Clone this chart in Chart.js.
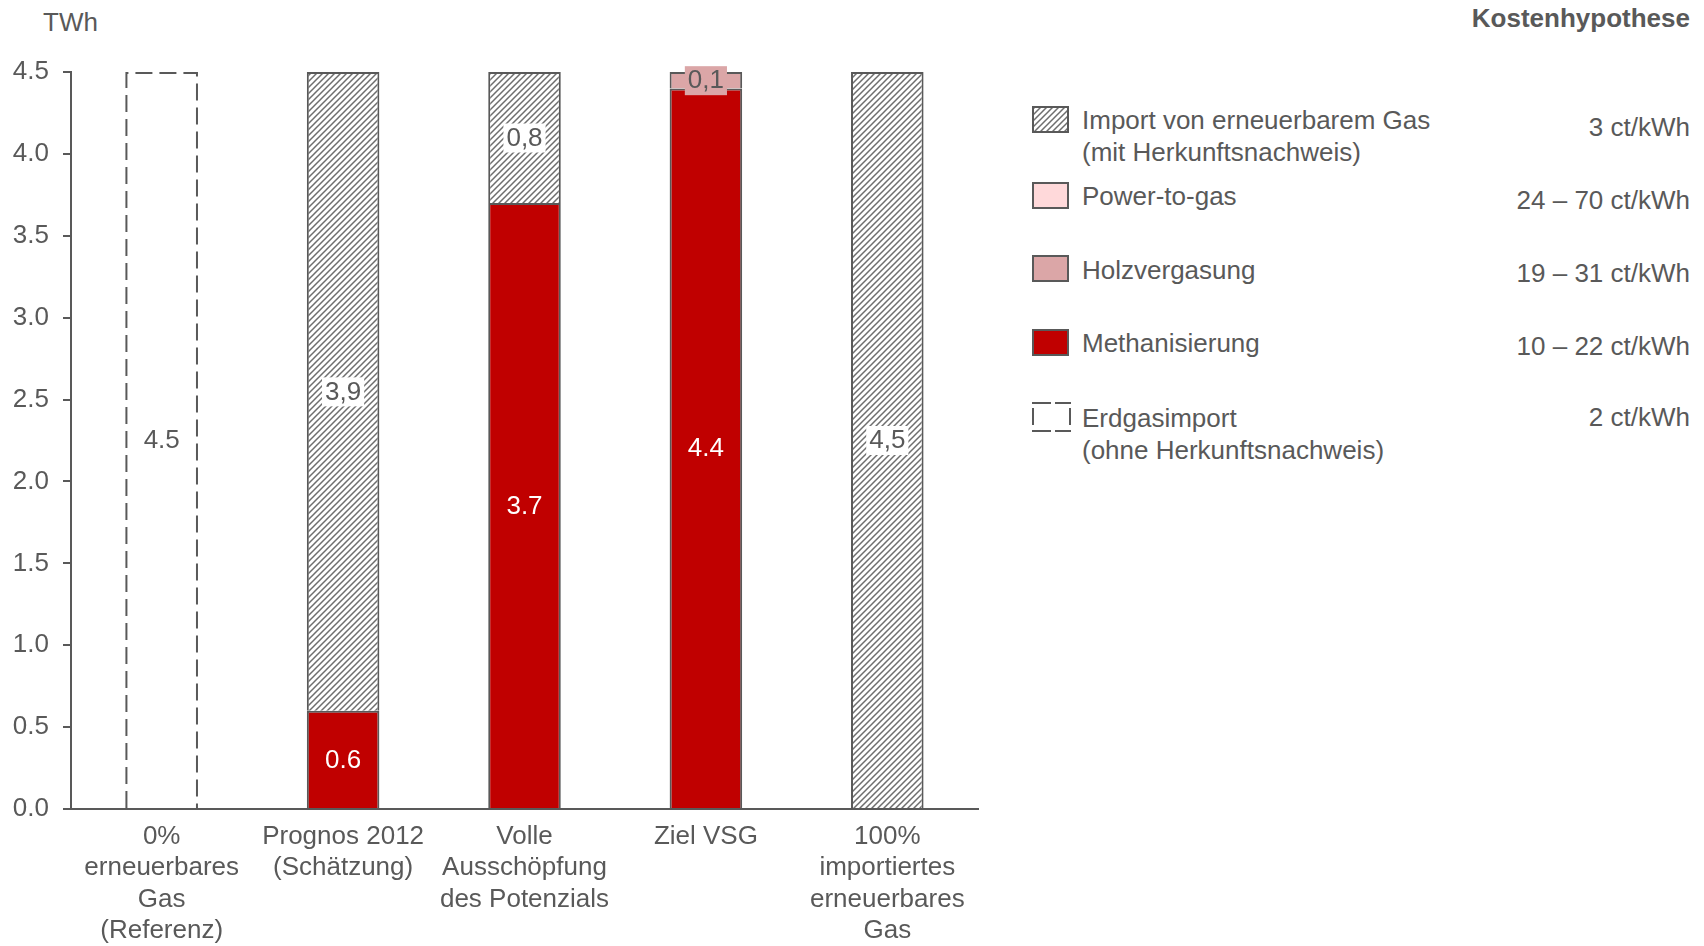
<!DOCTYPE html>
<html lang="de">
<head>
<meta charset="utf-8">
<script src="https://cdn.jsdelivr.net/npm/chart.js@4.4.1/dist/chart.umd.min.js"></script>
<style>
  body { margin: 0; width: 1704px; height: 946px; background: #fff; position: relative; overflow: hidden;
         font-family: "Liberation Sans", Arial, sans-serif; color: #595959; }
  #grafico-box { position: absolute; left: 0; top: 0; width: 1000px; height: 946px; }
  .einheit { position: absolute; left: 43px; top: 7px; font-size: 26px; }
  .kopf { position: absolute; right: 14px; top: 3px; font-size: 26px; font-weight: bold; }
  .farbe { position: absolute; left: 1032px; width: 37px; height: 27px; box-sizing: border-box; border: 2px solid #595959; }
  .name { position: absolute; left: 1082px; font-size: 26px; line-height: 31.5px; white-space: nowrap; }
  .kosten { position: absolute; right: 14px; font-size: 26px; line-height: 31.5px; white-space: nowrap; }
</style>
</head>
<body>
<div class="einheit">TWh</div>
<div class="kopf">Kostenhypothese</div>
<div id="legende"></div>
<div id="grafico-box"><canvas id="grafico"></canvas></div>

<script>
// Szenarien (x-Achse)
const szenarien = [
  ["0%", "erneuerbares", "Gas", "(Referenz)"],
  ["Prognos 2012", "(Schätzung)"],
  ["Volle", "Ausschöpfung", "des Potenzials"],
  ["Ziel VSG"],
  ["100%", "importiertes", "erneuerbares", "Gas"]
];

// Werte in TWh je Technologie
const methanisierung = [null, 0.6, 3.7, 4.4, null];
const holzvergasung  = [null, null, null, 0.1, null];
const powerToGas     = [null, null, null, null, null];
const importErneuerb = [null, 3.9, 0.8, null, 4.5];
const erdgasimport   = [4.5, null, null, null, null];

const yTicks = [0, 0.5, 1, 1.5, 2, 2.5, 3, 3.5, 4, 4.5];

// Legende mit Kostenhypothese
const legendeNamen = [
  ["Import von erneuerbarem Gas", "(mit Herkunftsnachweis)"],
  ["Power-to-gas"],
  ["Holzvergasung"],
  ["Methanisierung"],
  ["Erdgasimport", "(ohne Herkunftsnachweis)"]
];
const legendeKosten = ["3 ct/kWh", "24 – 70 ct/kWh", "19 – 31 ct/kWh", "10 – 22 ct/kWh", "2 ct/kWh"];

const GRAU = "#595959";
const ROT = "#C00000";
const HOLZ = "#DBA6A7";
const PTG = "#FFD9DA";
const SCHRIFT = '"Liberation Sans", Arial, sans-serif';

// Schraffur für importiertes Gas
const kachel = document.createElement("canvas");
kachel.width = kachel.height = 6;
const k = kachel.getContext("2d");
k.fillStyle = "#fff";
k.fillRect(0, 0, 6, 6);
k.strokeStyle = "#6e6e6e";
k.lineWidth = 1.5;
k.beginPath();
k.moveTo(0, 6); k.lineTo(6, 0);
k.moveTo(-1, 1); k.lineTo(1, -1);
k.moveTo(5, 7); k.lineTo(7, 5);
k.stroke();
const schraffur = k.createPattern(kachel, "repeat");

// gestricheltes Kästchen für die Legende
function gestricheltesKaestchen() {
  const c = document.createElement("canvas");
  c.width = 39; c.height = 30;
  const g = c.getContext("2d");
  g.strokeStyle = GRAU;
  g.lineWidth = 2;
  g.beginPath();
  g.moveTo(0, 1); g.lineTo(19, 1);
  g.moveTo(23, 1); g.lineTo(39, 1);
  g.moveTo(0, 29); g.lineTo(19, 29);
  g.moveTo(23, 29); g.lineTo(39, 29);
  g.moveTo(1, 6); g.lineTo(1, 23);
  g.moveTo(38, 6); g.lineTo(38, 23);
  g.stroke();
  return c.toDataURL();
}

// Legende aufbauen
function baueLegende() {
  const box = document.getElementById("legende");
  const zeilen = [
    { farbe: 106, name: 105, kosten: 112 },
    { farbe: 182, name: 181, kosten: 185 },
    { farbe: 255, name: 255, kosten: 258 },
    { farbe: 329, name: 328, kosten: 331 },
    { farbe: 402, name: 403, kosten: 402 }
  ];
  const stile = [
    f => { f.style.backgroundImage = `url(${kachel.toDataURL()})`; },
    f => { f.style.background = PTG; },
    f => { f.style.background = HOLZ; },
    f => { f.style.background = ROT; },
    f => {
      f.style.border = "none";
      f.style.width = "39px";
      f.style.height = "30px";
      f.style.backgroundImage = `url(${gestricheltesKaestchen()})`;
    }
  ];
  legendeNamen.forEach((name, i) => {
    const f = document.createElement("div");
    f.className = "farbe";
    f.style.top = zeilen[i].farbe + "px";
    stile[i](f);
    box.appendChild(f);

    const n = document.createElement("div");
    n.className = "name";
    n.style.top = zeilen[i].name + "px";
    n.innerHTML = name.join("<br>");
    box.appendChild(n);

    const c = document.createElement("div");
    c.className = "kosten";
    c.style.top = zeilen[i].kosten + "px";
    c.textContent = legendeKosten[i];
    box.appendChild(c);
  });
}

// Gestrichelter Rahmen und Wertbeschriftungen
const beschriftung = {
  id: "beschriftung",
  afterDatasetsDraw(chart) {
    const ctx = chart.ctx;
    ctx.save();
    chart.data.datasets.forEach((ds, i) => {
      const meta = chart.getDatasetMeta(i);
      meta.data.forEach((bar, j) => {
        const v = ds.data[j];
        if (v == null) return;
        const { x, y, base, width } = bar.getProps(["x", "y", "base", "width"], true);

        if (ds.gestrichelt) {
          ctx.setLineDash([17, 7]);
          ctx.strokeStyle = GRAU;
          ctx.lineWidth = 2;
          ctx.beginPath();
          ctx.moveTo(x - width / 2 + 1, base);
          ctx.lineTo(x - width / 2 + 1, y + 1);
          ctx.lineTo(x + width / 2 - 1, y + 1);
          ctx.lineTo(x + width / 2 - 1, base);
          ctx.stroke();
          ctx.setLineDash([]);
        }

        const text = v.toFixed(1).replace(".", ds.trenner);
        const cy = (y + base) / 2;
        ctx.font = `26px ${SCHRIFT}`;
        ctx.textAlign = "center";
        ctx.textBaseline = "middle";
        if (ds.labelHintergrund) {
          const w = ctx.measureText(text).width + 6;
          ctx.fillStyle = ds.labelHintergrund;
          ctx.fillRect(x - w / 2, cy - 14, w, 29);
        }
        ctx.fillStyle = ds.labelFarbe;
        ctx.fillText(text, x, cy + 1);
      });
    });
    ctx.restore();
  }
};

function crearGrafico() {
  const ctx = document.getElementById("grafico").getContext("2d");
  new Chart(ctx, {
    type: "bar",
    data: {
      labels: szenarien,
      datasets: [
        { label: "Methanisierung", data: methanisierung, backgroundColor: ROT,
          trenner: ".", labelFarbe: "#fff" },
        { label: "Holzvergasung", data: holzvergasung, backgroundColor: HOLZ,
          trenner: ",", labelFarbe: GRAU, labelHintergrund: HOLZ },
        { label: "Power-to-gas", data: powerToGas, backgroundColor: PTG,
          trenner: ",", labelFarbe: GRAU, labelHintergrund: PTG },
        { label: "Import von erneuerbarem Gas", data: importErneuerb, backgroundColor: schraffur,
          trenner: ",", labelFarbe: GRAU, labelHintergrund: "#fff" },
        { label: "Erdgasimport", data: erdgasimport, backgroundColor: "rgba(0,0,0,0)", borderWidth: 0,
          gestrichelt: true, trenner: ".", labelFarbe: GRAU }
      ]
    },
    options: {
      responsive: true,
      maintainAspectRatio: false,
      animation: false,
      layout: { padding: { top: 72, right: 22, left: 0, bottom: 0 } },
      datasets: {
        bar: {
          borderColor: GRAU,
          borderWidth: 2,
          barPercentage: 1,
          categoryPercentage: 0.4,
          clip: false
        }
      },
      plugins: { legend: { display: false }, tooltip: { enabled: false } },
      scales: {
        x: {
          stacked: true,
          grid: { display: false, drawTicks: false },
          border: { display: true, color: GRAU, width: 2 },
          ticks: {
            color: GRAU, padding: 12, maxRotation: 0, autoSkip: false,
            font: { family: SCHRIFT, size: 26, lineHeight: 1.21 }
          },
          afterFit: s => { s.height = 137; }
        },
        y: {
          stacked: true,
          min: 0,
          max: 4.5,
          afterBuildTicks: s => { s.ticks = yTicks.map(v => ({ value: v })); },
          grid: { drawOnChartArea: false, drawTicks: true, tickLength: 8, color: GRAU, lineWidth: 2 },
          border: { display: true, color: GRAU, width: 2 },
          ticks: {
            color: GRAU, padding: 14,
            font: { family: SCHRIFT, size: 26 },
            callback: v => v.toFixed(1)
          },
          afterFit: s => { s.width = 71; }
        }
      }
    },
    plugins: [beschriftung]
  });
}

window.onload = () => {
  baueLegende();
  crearGrafico();
};
</script>
</body>
</html>
